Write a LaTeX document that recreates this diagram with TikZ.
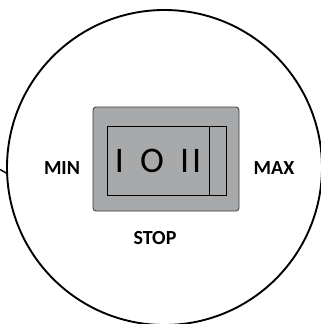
\documentclass[tikz,border=0pt]{standalone}
\usepackage{fontspec}
\setmainfont{Carlito}
\usetikzlibrary{positioning}
\definecolor{switchgray}{HTML}{A7A9AB}
\definecolor{edgegray}{HTML}{3A3A3A}
\tikzset{
    x=1pt,
    y=-1pt,
    dial/.style = {
        draw,
        shape=circle,
        minimum size=315pt,
        inner sep=0pt,
        line width=1.9pt
    },
    housing/.style = {
        draw=edgegray,
        fill=switchgray,
        shape=rectangle,
        minimum width=146pt,
        minimum height=104pt,
        rounded corners=3pt,
        line width=0.8pt
    },
    rocker/.style = {
        draw=black,
        fill=switchgray,
        shape=rectangle,
        minimum height=69pt,
        inner sep=0pt,
        line width=0.8pt
    },
    speed/.style = {
        font=\fontsize{20}{20}\selectfont\bfseries
    },
}

\begin{document}
\begin{tikzpicture}
            \useasboundingbox (0,0) rectangle (321,324);
            \node[dial] (dial) at (164.5,167.5) {};
            \coordinate (cable) at (0,169.5);
            \node[housing] (housing) at (166,159) {};
            \node[rocker, minimum width=102pt] (face) at (158,160.5)
                {\fontsize{36}{36}\selectfont I\hspace{0.45em}O\hspace{0.45em}I\hspace{0.08em}I};
            \node[rocker, minimum width=17pt] (tab) at (217.5,160.5) {};

            \node[speed] (min) at (62,168) {MIN};
            \node[speed] (max) at (274,168) {MAX};
            \node[speed] (stop) at (155,238) {STOP};

            \path[draw, line width=1.4pt] (cable) -- (dial.182);

        \end{tikzpicture}
\end{document}
